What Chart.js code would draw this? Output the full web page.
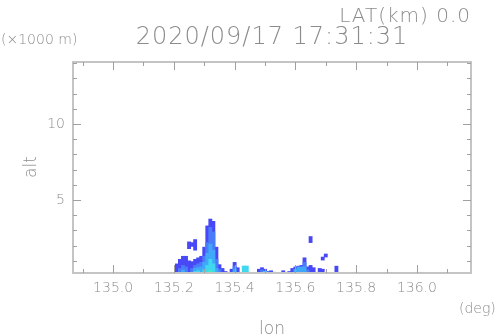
<!DOCTYPE html>
<html>
<head>
<meta charset="utf-8">
<script src="https://cdn.jsdelivr.net/npm/chart.js@4.4.1/dist/chart.umd.min.js"></script>
<style>
  html, body { margin: 0; padding: 0; background: #fff; }
  canvas { display: block; }
</style>
</head>
<body>
<canvas id="rhiChart" width="498" height="336"></canvas>
<script>
// Radar cross section (lon / alt)

const titleText = '2020/09/17 17:31:31';
const latText = 'LAT(km) 0.0';

// Tick values
const lonMajor = [135.0, 135.2, 135.4, 135.6, 135.8, 136.0];
const lonMinor = [134.9, 135.1, 135.3, 135.5, 135.7, 135.9, 136.1];
const altMajor = [5, 10];
const altMinor = [1, 2, 3, 4, 6, 7, 8, 9, 11, 12, 13, 14];

// Echo cells: [lon, alt bottom, alt top] (x1000 m), one array per intensity level
const echoLevel1 = [
    [135.21, 0, 0.8], [135.22, 0, 1.1], [135.23, 0, 1.3], [135.24, 0, 1.3], [135.25, 0, 1.0],
    [135.26, 0, 0.95], [135.27, 0, 1.1], [135.28, 0, 1.2], [135.29, 0, 1.3], [135.30, 0, 1.9],
    [135.31, 0, 3.3], [135.32, 0, 3.75], [135.33, 0, 3.6], [135.34, 0, 1.9], [135.35, 0, 0.75],
    [135.36, 0, 0.5], [135.37, 0, 0.3],
    [135.25, 1.8, 2.25], [135.26, 1.95, 2.2], [135.27, 1.7, 2.4],
    [135.39, 0, 0.45], [135.40, 0, 0.9], [135.41, 0, 0.55],
    [135.48, 0, 0.45], [135.49, 0, 0.55], [135.50, 0, 0.45], [135.51, 0, 0.3], [135.52, 0, 0.35],
    [135.53, 0, 0.25], [135.56, 0, 0.35],
    [135.58, 0, 0.3], [135.59, 0, 0.5], [135.60, 0, 0.6], [135.61, 0, 0.65], [135.62, 0, 0.7],
    [135.63, 0, 1.2], [135.64, 0, 0.6], [135.65, 0, 0.7], [135.66, 0, 0.55], [135.67, 0, 0.2],
    [135.68, 0, 0.5], [135.69, 0, 0.45], [135.70, 0, 0.15],
    [135.65, 2.2, 2.6], [135.69, 1.05, 1.25], [135.70, 1.25, 1.45], [135.735, 0, 0.65]
];
const echoLevel2 = [
    [135.22, 0, 0.5], [135.23, 0, 0.7], [135.24, 0, 0.6], [135.26, 0, 0.5], [135.27, 0, 0.7],
    [135.28, 0, 0.8], [135.29, 0, 0.9], [135.30, 0, 1.3], [135.31, 0, 2.2], [135.32, 0, 3.2],
    [135.33, 0, 2.9], [135.34, 0, 1.1], [135.35, 0, 0.45], [135.40, 0, 0.65], [135.49, 0, 0.4],
    [135.63, 0, 0.9], [135.64, 0, 0.4]
];
const echoLevel3 = [
    [135.23, 0, 0.4], [135.27, 0, 0.5], [135.28, 0, 0.55], [135.29, 0, 0.6], [135.30, 0, 0.9],
    [135.31, 0, 1.5], [135.32, 0, 2.1], [135.33, 0, 1.7], [135.34, 0, 0.5], [135.40, 0, 0.45],
    [135.60, 0, 0.45], [135.61, 0, 0.6], [135.62, 0, 0.6], [135.63, 0, 0.6]
];
const echoLevel4 = [
    [135.27, 0, 0.3], [135.28, 0, 0.35], [135.30, 0, 0.4], [135.31, 0, 0.7], [135.32, 0, 1.1],
    [135.33, 0, 0.8], [135.43, 0, 0.66], [135.44, 0, 0.66], [135.50, 0, 0.3], [135.52, 0, 0.25]
];
const echoLevel5 = [
    [135.28, 0, 0.2], [135.32, 0, 0.35], [135.48, 0, 0.2]
];
const echoLevel6 = [
    [135.49, 0, 0.2]
];

const levelColors = ['#4848f6', '#4a7cfa', '#40a8f8', '#40d8ee', '#40f0b8', '#b8f040'];
const echoLevels = [echoLevel1, echoLevel2, echoLevel3, echoLevel4, echoLevel5, echoLevel6];

const textColor = '#8c8c8c';
const frameColor = '#c4c4c4';

// Frame, inward ticks and all texts
const framePlugin = {
    id: 'frame',
    beforeDraw(chart) {
        const ctx = chart.ctx;
        ctx.save();
        ctx.fillStyle = '#ffffff';
        ctx.fillRect(0, 0, chart.width, chart.height);
        ctx.restore();
    },
    afterDatasetsDraw(chart) {
        const { ctx, chartArea: a, scales: { x, y } } = chart;
        ctx.save();

        // frame
        ctx.strokeStyle = frameColor;
        ctx.lineWidth = 2;
        ctx.strokeRect(a.left, a.top, a.right - a.left, a.bottom - a.top);

        // ticks
        ctx.strokeStyle = '#a0a0a0';
        ctx.lineWidth = 1;
        const tickX = (v, len) => {
            const px = Math.round(x.getPixelForValue(v)) + 0.5;
            ctx.beginPath();
            ctx.moveTo(px, a.bottom); ctx.lineTo(px, a.bottom - len);
            ctx.moveTo(px, a.top); ctx.lineTo(px, a.top + len);
            ctx.stroke();
        };
        const tickY = (v, len) => {
            const py = Math.round(y.getPixelForValue(v)) + 0.5;
            ctx.beginPath();
            ctx.moveTo(a.left, py); ctx.lineTo(a.left + len, py);
            ctx.moveTo(a.right, py); ctx.lineTo(a.right - len, py);
            ctx.stroke();
        };
        lonMajor.forEach(v => tickX(v, 8));
        lonMinor.forEach(v => { if (v < x.max) tickX(v, 4); });
        altMajor.forEach(v => tickY(v, 8));
        altMinor.forEach(v => { if (v < y.max) tickY(v, 4); });

        // tick labels
        ctx.fillStyle = textColor;
        ctx.font = '300 14px "DejaVu Sans"';
        ctx.textBaseline = 'middle';
        ctx.textAlign = 'center';
        lonMajor.forEach(v => ctx.fillText(v.toFixed(1), x.getPixelForValue(v), a.bottom + 15));
        ctx.textAlign = 'right';
        altMajor.forEach(v => ctx.fillText(String(v), a.left - 8, y.getPixelForValue(v)));

        // units and axis titles
        ctx.textAlign = 'left';
        ctx.fillText('(×1000 m)', 1, 40);
        ctx.fillText('(deg)', 459, 309);

        ctx.font = '300 17px "DejaVu Sans"';
        ctx.textAlign = 'center';
        ctx.fillText('lon', 272, 330);
        ctx.save();
        ctx.translate(32, 167);
        ctx.rotate(-Math.PI / 2);
        ctx.fillText('alt', 0, 0);
        ctx.restore();

        // title
        ctx.font = '200 24px "DejaVu Sans"';
        ctx.letterSpacing = '1px';
        ctx.textAlign = 'center';
        ctx.fillText(titleText, 272, 38);

        ctx.font = '200 20px "DejaVu Sans"';
        ctx.textAlign = 'right';
        ctx.fillText(latText, 471, 17);
        ctx.restore();
    }
};

function createEchoChart() {
    const canvas = document.getElementById('rhiChart');
    if (!canvas) return;

    new Chart(canvas, {
        type: 'bar',
        data: {
            datasets: echoLevels.map((cells, i) => ({
                data: cells.map(c => ({ x: c[0], y: [c[1], c[2]] })),
                backgroundColor: levelColors[i],
                borderWidth: 0,
                borderSkipped: false,
                barThickness: 3.2,
                grouped: false,
                order: echoLevels.length - i
            }))
        },
        options: {
            responsive: false,
            animation: false,
            devicePixelRatio: 1,
            layout: { padding: { left: 73, right: 27, top: 62, bottom: 63 } },
            plugins: {
                legend: { display: false },
                tooltip: { enabled: false }
            },
            scales: {
                x: { type: 'linear', offset: false, min: 134.868, max: 136.178, display: false },
                y: { type: 'linear', min: 0.2, max: 14.08, display: false }
            }
        },
        plugins: [framePlugin]
    });
}

createEchoChart();
</script>
</body>
</html>
